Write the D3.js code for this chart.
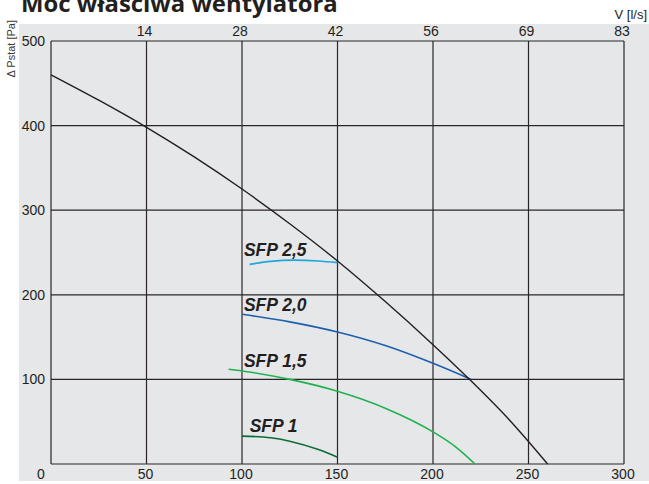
<!DOCTYPE html>
<html>
<head>
<meta charset="utf-8">
<script src="https://cdn.jsdelivr.net/npm/d3@7"></script>
<style>
    body { margin: 0; background: #fff; }
    svg { display: block; }
    .tick-label { font-family: "Liberation Sans", Arial, sans-serif; font-size: 14px; fill: #231f20; }
    .sfp-label { font-family: "Liberation Sans", Arial, sans-serif; font-size: 17.5px; font-weight: bold; font-style: italic; fill: #231f20; }
</style>
</head>
<body>
<div id="chart"></div>
<script>
const WIDTH = 649;
const HEIGHT = 484;

// axis ticks
const xTicks = [0, 50, 100, 150, 200, 250, 300];
const topTicks = [14, 28, 42, 56, 69, 83];     // l/s above the 50..300 gridlines
const yTicks = [0, 100, 200, 300, 400, 500];

// fan curve (V [m3/h], dp [Pa])
const fanV = [0, 25, 50, 75, 100, 125, 150, 175, 200, 220, 240, 260];
const fanP = [460, 430, 398, 363, 325, 284, 240, 192, 141, 98, 52, 0];

// SFP curves
const sfp25V = [104, 115, 127, 140, 150];
const sfp25P = [236, 239.5, 241, 240, 238];
const sfp20V = [100, 125, 150, 175, 200, 220];
const sfp20P = [177, 168, 156, 140, 119, 100];
const sfp15V = [93, 100, 125, 150, 175, 200, 212, 222];
const sfp15P = [112, 110, 100, 86, 66, 38, 20, 0];
const sfp10V = [100, 115, 125, 140, 150];
const sfp10P = [33, 31, 27, 17, 8];

const sfpNames = ["SFP 2,5", "SFP 2,0", "SFP 1,5", "SFP 1"];
const sfpColors = ["#1ea6df", "#1d5fae", "#20b24f", "#0d6a3a"];
const labelV = [101, 101, 101, 104];
const labelP = [246, 181, 115, 38];

const svg = d3.select("#chart")
    .append("svg")
    .attr("width", WIDTH)
    .attr("height", HEIGHT);

// grey panel
svg.append("rect")
    .attr("x", 19).attr("y", 24)
    .attr("width", WIDTH - 19).attr("height", 457)
    .attr("fill", "#e6e7e8");

const x = d3.scaleLinear().domain([0, 300]).range([51, 624]);
const y = d3.scaleLinear().domain([0, 500]).range([464, 41]);

// grid + frame
svg.append("g").selectAll("line")
    .data(xTicks)
    .enter().append("line")
    .attr("x1", d => x(d)).attr("x2", d => x(d))
    .attr("y1", y(0)).attr("y2", y(500))
    .attr("stroke", "#2a2627").attr("stroke-width", 1.2);

svg.append("g").selectAll("line")
    .data(yTicks)
    .enter().append("line")
    .attr("x1", x(0)).attr("x2", x(300))
    .attr("y1", d => y(d)).attr("y2", d => y(d))
    .attr("stroke", "#2a2627").attr("stroke-width", 1.2);

// bottom labels
svg.append("g").selectAll("text")
    .data(xTicks)
    .enter().append("text")
    .attr("class", "tick-label")
    .attr("x", d => d === 0 ? x(d) - 10 : x(d) - 1)
    .attr("y", 479)
    .attr("text-anchor", "middle")
    .text(d => d);

// top labels (l/s)
svg.append("g").selectAll("text")
    .data(topTicks)
    .enter().append("text")
    .attr("class", "tick-label")
    .attr("x", (d, i) => x(xTicks[i + 1]) - 2)
    .attr("y", 36)
    .attr("text-anchor", "middle")
    .text(d => d);

// left labels
svg.append("g").selectAll("text")
    .data(yTicks.filter(d => d > 0))
    .enter().append("text")
    .attr("class", "tick-label")
    .attr("x", 45)
    .attr("y", d => y(d) + 5)
    .attr("text-anchor", "end")
    .text(d => d);

// axis titles
svg.append("text")
    .attr("transform", "translate(15, 20) rotate(-90)")
    .attr("text-anchor", "end")
    .style("font-family", "'Liberation Sans', Arial, sans-serif")
    .style("font-size", "11px")
    .style("fill", "#3a3a3a")
    .text("Δ Pstat [Pa]");

svg.append("text")
    .attr("x", 647).attr("y", 19)
    .attr("text-anchor", "end")
    .style("font-family", "'Liberation Sans', Arial, sans-serif")
    .style("font-size", "13px")
    .style("fill", "#231f20")
    .text("V [l/s]");

const title = svg.append("text")
    .attr("x", 21).attr("y", 12)
    .style("font-family", "'Open Sans', sans-serif")
    .style("font-weight", "bold")
    .style("font-size", "22px")
    .style("fill", "#231f20")
    .text("Moc właściwa wentylatora");
const tLen = title.node().getComputedTextLength();
title.style("font-size", (22 * 317 / tLen) + "px");

// curves
const line = d3.line()
    .x(d => x(d[0]))
    .y(d => y(d[1]))
    .curve(d3.curveMonotoneX);

const sfpSeries = [
    d3.zip(sfp25V, sfp25P),
    d3.zip(sfp20V, sfp20P),
    d3.zip(sfp15V, sfp15P),
    d3.zip(sfp10V, sfp10P)
];

svg.append("g").selectAll("path")
    .data(sfpSeries)
    .enter().append("path")
    .attr("d", line)
    .attr("fill", "none")
    .attr("stroke", (d, i) => sfpColors[i])
    .attr("stroke-width", 1.6);

svg.append("path")
    .attr("d", line(d3.zip(fanV, fanP)))
    .attr("fill", "none")
    .attr("stroke", "#231f20")
    .attr("stroke-width", 1.4);

svg.append("g").selectAll("text")
    .data(sfpNames)
    .enter().append("text")
    .attr("class", "sfp-label")
    .attr("x", (d, i) => x(labelV[i]))
    .attr("y", (d, i) => y(labelP[i]))
    .text(d => d);
</script>
</body>
</html>
